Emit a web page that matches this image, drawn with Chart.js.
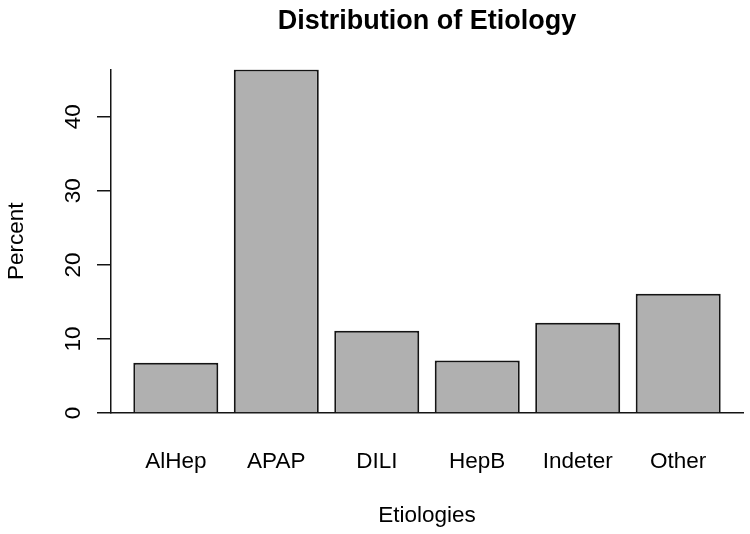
<!DOCTYPE html>
<html>
<head>
<meta charset="utf-8">
<title>Distribution of Etiology</title>
<script src="https://cdn.jsdelivr.net/npm/chart.js@4"></script>
<style>
    html, body { margin: 0; padding: 0; background: #fff; }
    #wrap { width: 750px; height: 534px; position: relative; }
</style>
</head>
<body>
<div id="wrap"><canvas id="etiologyChart"></canvas></div>
<script>
// data
const etiologies = ['AlHep', 'APAP', 'DILI', 'HepB', 'Indeter', 'Other'];
const percentValues = [6.8, 46.4, 11.1, 7.1, 12.2, 16.1];
const yTicks = [0, 10, 20, 30, 40];

const FONT = '"Liberation Sans", Arial, Helvetica, sans-serif';
const BAR_FILL = '#b0b0b0';
const INK = '#141414';

// bars sit on a linear x scale so the axis can start left of the first bar (like R's barplot)
const barPoints = etiologies.map((name, i) => ({ x: i, y: percentValues[i] }));

function renderEtiologyChart() {
    const ctx = document.getElementById('etiologyChart').getContext('2d');
    return new Chart(ctx, {
        type: 'bar',
        data: {
            datasets: [{
                label: 'Percent',
                data: barPoints,
                backgroundColor: BAR_FILL,
                borderColor: INK,
                borderWidth: 2,
                borderSkipped: 'start', // the x axis line closes the bottom
                categoryPercentage: 0.846,
                barPercentage: 1
            }]
        },
        options: {
            responsive: true,
            maintainAspectRatio: false,
            animation: false,
            layout: { padding: { left: 0, right: 7, top: 0, bottom: 0 } },
            plugins: {
                legend: { display: false },
                tooltip: { enabled: false },
                title: {
                    display: true,
                    text: 'Distribution of Etiology',
                    fullSize: false,
                    color: '#000',
                    font: { family: FONT, size: 27, weight: 'bold' },
                    padding: { top: 5, bottom: 32 }
                }
            },
            scales: {
                x: {
                    type: 'linear',
                    offset: false,
                    min: -0.645,
                    max: etiologies.length - 1 + 0.645,
                    grid: { display: false, offset: false },
                    border: { display: true, color: INK, width: 1.5 },
                    ticks: {
                        stepSize: 1,
                        includeBounds: false,
                        autoSkip: false,
                        maxRotation: 0,
                        padding: 27,
                        color: '#000',
                        font: { family: FONT, size: 22.5 },
                        callback: v => etiologies[v] ?? ''
                    },
                    title: {
                        display: true,
                        text: 'Etiologies',
                        color: '#000',
                        font: { family: FONT, size: 22.5 },
                        padding: { top: 0, bottom: 5 }
                    },
                    afterFit: scale => { scale.height = 121; }
                },
                y: {
                    min: 0,
                    max: Math.max(...percentValues),
                    afterBuildTicks: scale => { scale.ticks = yTicks.map(v => ({ value: v })); },
                    grid: {
                        drawOnChartArea: false,
                        drawTicks: true,
                        tickLength: 14,
                        lineWidth: 1.5,
                        color: INK
                    },
                    border: { display: true, color: INK, width: 1.5 },
                    ticks: {
                        minRotation: 90,
                        maxRotation: 90,
                        crossAlign: 'center',
                        padding: 11,
                        color: '#000',
                        font: { family: FONT, size: 22.5 }
                    },
                    title: {
                        display: true,
                        text: 'Percent',
                        color: '#000',
                        font: { family: FONT, size: 22.5 },
                        padding: { top: 3, bottom: 0 }
                    },
                    afterFit: scale => { scale.width = 111; }
                }
            }
        }
    });
}

renderEtiologyChart();
</script>
</body>
</html>
